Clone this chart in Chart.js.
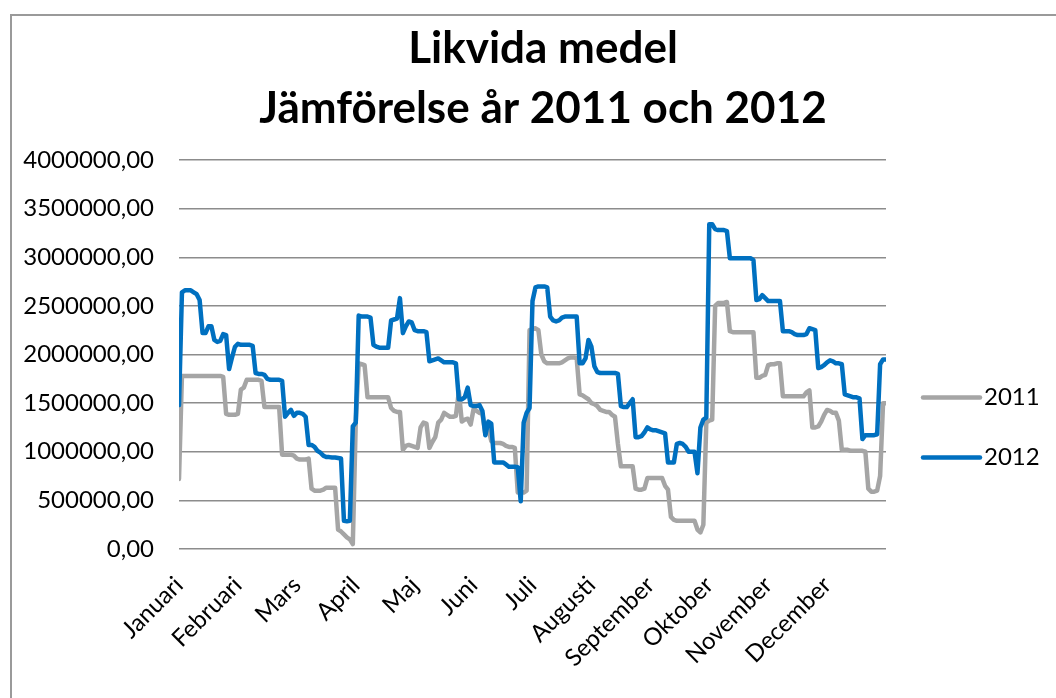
<!DOCTYPE html>
<html>
<head>
<meta charset="utf-8">
<script src="https://cdn.jsdelivr.net/npm/chart.js@4/dist/chart.umd.min.js"></script>
<style>
  html, body { margin: 0; padding: 0; background: #fff; overflow: hidden; }
  #frame { position: absolute; left: 10px; top: 14px; width: 1062px; height: 690px; border: 2px solid #9a9a9a; }
  #frame canvas { display: block; }
</style>
</head>
<body>
<div id="frame"><canvas id="c"></canvas></div>
<script>
// ---- Data (values in thousands of kronor, ~20 observations per month) ----
const months = ['Januari','Februari','Mars','April','Maj','Juni','Juli','Augusti','September','Oktober','November','December'];
const pointsPerMonth = 20;
const seriesLabels = ['2011', '2012'];

const values2011k = [
  720,1780,1780,1780,1780, 1780,1780,1780,1780,1780, 1780,1780,1780,1780,1780, 1770,1390,1380,1380,1380,
  1390,1640,1660,1740,1740, 1740,1740,1740,1730,1460, 1460,1460,1460,1460,1460, 970,970,970,970,960,
  930,920,920,920,930, 620,600,600,600,610, 630,630,630,630,200, 180,150,120,100,50,
  1300,1910,1900,1890,1560, 1560,1560,1560,1560,1560, 1560,1560,1450,1420,1410, 1410,1020,1060,1070,1060,
  1050,1040,1250,1300,1290, 1040,1100,1150,1300,1330, 1400,1380,1360,1360,1370, 1620,1310,1330,1340,1280,
  1440,1420,1400,1390,1180, 1250,1110,1090,1090,1090, 1080,1060,1050,1050,1040, 580,580,580,600,2250,
  2260,2270,2250,2000,1930, 1910,1910,1910,1910,1910, 1920,1940,1960,1970,1970, 1960,1590,1580,1560,1540,
  1500,1490,1470,1430,1420, 1410,1410,1380,1360,1080, 850,850,850,850,850, 620,610,610,620,730,
  730,730,730,730,730, 650,610,330,300,290, 290,290,290,290,290, 290,200,170,250,1300,
  1320,1330,2500,2530,2530, 2530,2540,2240,2230,2230, 2230,2230,2230,2230,2230, 2230,1760,1760,1780,1790,
  1890,1900,1900,1910,1910, 1570,1570,1570,1570,1570, 1570,1570,1570,1610,1630, 1250,1250,1260,1310,1380,
  1430,1420,1400,1400,1320, 1020,1020,1020,1010,1010, 1010,1010,1010,1000,620, 590,590,600,750,1500,
  1500
];

const values2012k = [
  1480,2640,2660,2660,2660, 2640,2620,2560,2220,2220, 2290,2290,2150,2130,2140, 2210,2200,1850,1970,2080,
  2110,2100,2100,2100,2100, 2090,1810,1800,1800,1790, 1750,1740,1740,1740,1740, 1730,1360,1400,1430,1370,
  1400,1400,1390,1360,1070, 1070,1050,1010,990,960, 945,945,940,940,935, 930,290,285,290,1260,
  1300,2400,2390,2390,2390, 2380,2100,2080,2070,2070, 2070,2070,2350,2360,2370, 2580,2220,2290,2340,2330,
  2250,2240,2240,2240,2230, 1930,1940,1950,1960,1940, 1920,1920,1920,1920,1910, 1540,1540,1560,1660,1480,
  1470,1470,1480,1420,1170, 1310,1290,890,890,890, 890,870,845,845,845, 840,490,1300,1400,1450,
  2550,2690,2700,2700,2700, 2690,2390,2350,2340,2350, 2380,2390,2390,2390,2390, 2390,1910,1910,1960,2150,
  2080,1880,1820,1810,1810, 1810,1810,1810,1810,1800, 1470,1460,1460,1500,1540, 1150,1150,1160,1200,1250,
  1230,1220,1220,1210,1200, 1190,890,890,890,1080, 1090,1080,1050,1000,1000, 1000,780,1250,1330,1350,
  3340,3340,3290,3280,3280, 3280,3270,2990,2990,2990, 2990,2990,2990,2990,2990, 2970,2560,2570,2610,2580,
  2550,2550,2550,2550,2550, 2240,2240,2240,2230,2210, 2200,2200,2200,2210,2270, 2260,2250,1860,1870,1890,
  1920,1940,1930,1910,1910, 1900,1590,1580,1570,1560, 1560,1550,1130,1170,1170, 1170,1170,1180,1900,1950,
  1950
];

const yTicks = [0, 500000, 1000000, 1500000, 2000000, 2500000, 3000000, 3500000, 4000000];

// ---- Build chart ----
const toPoints = arr => arr.map((v, i) => ({ x: i, y: v * 1000 }));
const colors = { '2011': '#A5A5A5', '2012': '#0070C0' };
const FONT = 'Lato, "Open Sans", sans-serif';

const legendPlugin = {
  id: 'sideLegend',
  afterDraw(chart) {
    const ctx = chart.ctx;
    const a = chart.chartArea;
    const x0 = a.right + 37;
    const lineLen = 57;
    const yCenter = (a.top + a.bottom) / 2;
    const ys = [yCenter + 43, yCenter + 103];
    ctx.save();
    chart.data.datasets.forEach((ds, i) => {
      const y = ys[i];
      ctx.strokeStyle = ds.borderColor;
      ctx.lineWidth = ds.borderWidth;
      ctx.lineCap = 'round';
      ctx.beginPath();
      ctx.moveTo(x0, y);
      ctx.lineTo(x0 + lineLen, y);
      ctx.stroke();
      ctx.fillStyle = '#000';
      ctx.font = '24px ' + FONT;
      ctx.textBaseline = 'middle';
      ctx.textAlign = 'left';
      ctx.fillText(ds.label, x0 + lineLen + 4, y);
    });
    ctx.restore();
  }
};

new Chart(document.getElementById('c'), {
  type: 'line',
  data: {
    datasets: [
      { label: seriesLabels[0], data: toPoints(values2011k), borderColor: colors['2011'], backgroundColor: colors['2011'],
        borderWidth: 4.5, pointRadius: 0, tension: 0, borderJoinStyle: 'round', borderCapStyle: 'round', order: 2 },
      { label: seriesLabels[1], data: toPoints(values2012k), borderColor: colors['2012'], backgroundColor: colors['2012'],
        borderWidth: 4.5, pointRadius: 0, tension: 0, borderJoinStyle: 'round', borderCapStyle: 'round', order: 1 }
    ]
  },
  options: {
    responsive: true,
    maintainAspectRatio: false,
    animation: false,
    layout: { padding: 0 },
    plugins: {
      legend: { display: false },
      tooltip: { enabled: false },
      title: {
        display: true,
        text: ['Likvida medel', 'Jämförelse år 2011 och 2012'],
        color: '#000',
        font: { family: FONT, size: 44, weight: 'bold', lineHeight: 1.364 },
        padding: { top: 3, bottom: 21 }
      }
    },
    scales: {
      x: {
        type: 'linear',
        min: 0,
        max: months.length * pointsPerMonth,
        grid: { display: false },
        border: { display: false },
        afterBuildTicks: s => { s.ticks = months.map((m, i) => ({ value: i * pointsPerMonth })); },
        afterFit: s => { s.height = 157; },
        ticks: {
          autoSkip: false,
          minRotation: 45,
          maxRotation: 45,
          padding: 14,
          color: '#000',
          font: { family: FONT, size: 24 },
          callback: v => months[Math.round(v / pointsPerMonth)]
        }
      },
      y: {
        min: 0,
        max: 4000000,
        afterBuildTicks: s => { s.ticks = yTicks.map(v => ({ value: v })); },
        afterFit: s => { s.width = 167; },
        grid: { color: '#8c8c8c', lineWidth: 1.5, drawTicks: false },
        border: { display: false },
        ticks: {
          padding: 25,
          color: '#000',
          font: { family: FONT, size: 24 },
          callback: v => v + ',00'
        }
      },
      legendSpace: {
        type: 'linear',
        position: 'right',
        display: true,
        grid: { display: false },
        border: { display: false },
        ticks: { display: false },
        afterFit: s => { s.width = 188; }
      }
    }
  },
  plugins: [legendPlugin]
});
</script>
</body>
</html>
